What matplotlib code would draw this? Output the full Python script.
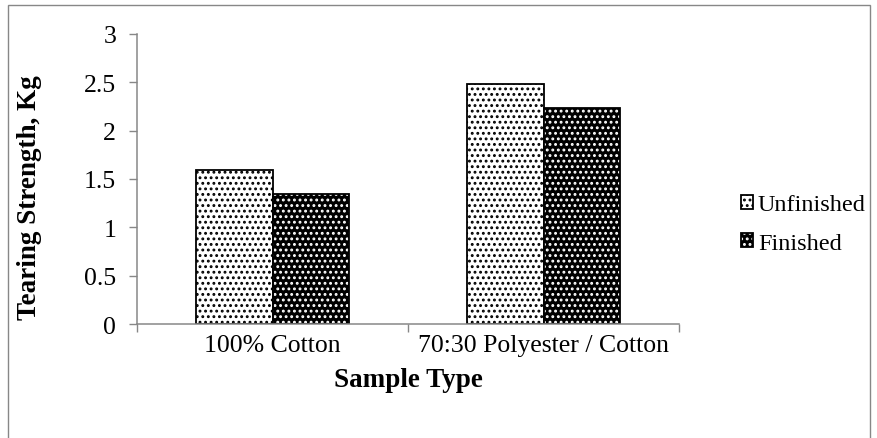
import numpy as np
import matplotlib
matplotlib.use('Agg')
import matplotlib.pyplot as plt
from matplotlib.patches import Rectangle

plt.rcParams['font.family'] = ['Liberation Serif', 'DejaVu Serif']
plt.rcParams['hatch.linewidth'] = 1.3

samples = ['100% Cotton', '70:30 Polyester / Cotton']
unfinished = [1.59, 2.48]
finished = [1.34, 2.23]
series_names = ['Unfinished', 'Finished']
y_ticks = [0, 0.5, 1, 1.5, 2, 2.5, 3]
y_ticklabels = ['0', '0.5', '1', '1.5', '2', '2.5', '3']

FS = 18.5
grey = '#878787'

fig = plt.figure(figsize=(8.77, 4.39), dpi=100)
ax = fig.add_axes([137/877, 1-325/439, 542/877, 290/439])

x = np.arange(len(samples))
w = 0.284

def hatched_bars(xpos, vals, face, dots):
    # hatch colour follows edgecolor, so draw the outline as a second bar
    b1 = ax.bar(xpos, vals, w, color=face, edgecolor=dots, hatch='...', linewidth=0)
    b2 = ax.bar(xpos, vals, w, fill=False, edgecolor='black', linewidth=1.3)
    return b1, b2

u1, u2 = hatched_bars(x - w/2, unfinished, 'white', 'black')
f1, f2 = hatched_bars(x + w/2, finished, 'black', 'white')

ax.set_xlim(-0.5, 1.5)
ax.set_ylim(0, 3)
ax.set_yticks(y_ticks, y_ticklabels)
ax.set_xticks(x, samples)
ax.set_xticks([-0.5, 0.5, 1.5], minor=True)
ax.tick_params(axis='x', which='major', length=0, pad=7, labelsize=FS)
ax.tick_params(axis='x', which='minor', length=6, width=1, color=grey, direction='out')
ax.tick_params(axis='y', length=6, width=1, color=grey, pad=9, labelsize=FS)

for s in ['top', 'right']:
    ax.spines[s].set_visible(False)
for s in ['left', 'bottom']:
    ax.spines[s].set_color(grey)
    ax.spines[s].set_linewidth(1.1)

ax.set_ylabel('Tearing Strength, Kg', fontsize=19.5, fontweight='bold')
ax.yaxis.set_label_coords(-0.176, 0.44)
ax.set_xlabel('Sample Type', fontsize=19.5, fontweight='bold')
ax.xaxis.set_label_coords(0.5, -0.19)
ax.xaxis.label.set_va('center')

leg = fig.legend([(u1[0], u2[0]), (f1[0], f2[0])], series_names,
                 loc='center left', bbox_to_anchor=(741/877, 1-225/439),
                 frameon=False, fontsize=17.5, borderpad=0, borderaxespad=0,
                 handlelength=0.5, handleheight=0.5, handletextpad=0.2,
                 labelspacing=0.72)

# outer chart border, cut off at the bottom like the source
fig.patches.append(Rectangle((8/877, -0.05), 862/877, 1.05 - 6/439,
                             transform=fig.transFigure, fill=False,
                             edgecolor=grey, linewidth=1.0))

# title is mostly cropped off above the frame
fig.text(448/877, 1 + 6/439, 'Tearing Strength', ha='center', va='baseline',
         fontsize=18, fontweight='bold')

fig.savefig('out.png', dpi=100)
